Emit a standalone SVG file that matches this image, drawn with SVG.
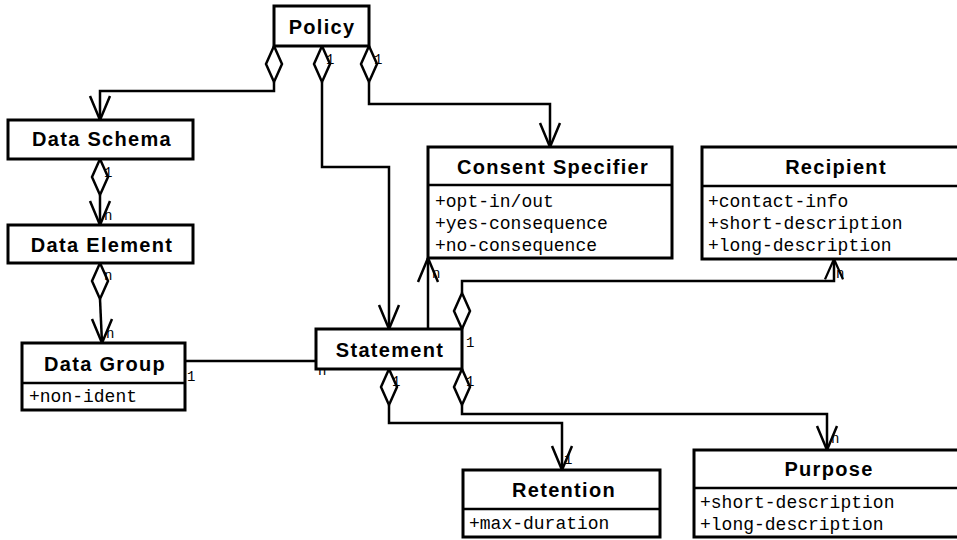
<svg xmlns="http://www.w3.org/2000/svg" width="957" height="540" viewBox="0 0 957 540">
<style>
.box{fill:#fff;stroke:#000;stroke-width:3}
.sep{stroke:#000;stroke-width:2.5}
.t{font-family:"Liberation Sans",Arial,sans-serif;font-weight:bold;font-size:20px;letter-spacing:1.3px;text-anchor:middle;fill:#000}
.a{font-family:"Liberation Mono","Courier New",monospace;font-size:18px;fill:#000}
.l{font-family:"Liberation Mono","Courier New",monospace;font-size:14px;fill:#000}
.c{fill:none;stroke:#000;stroke-width:2.5}
.d{fill:#fff;stroke:#000;stroke-width:2.5}
</style>
<defs>
<path id="dia" d="M0,0 L8,18 L0,36 L-8,18 Z"/>
<path id="arr" d="M-10,-24 L0,0 L10,-24"/>
</defs>
<rect width="957" height="540" fill="#fff"/>
<g id="connectors">
<path class="c" d="M274,82 V91 H100 V120"/>
<use href="#arr" class="c" transform="translate(100,120)"/>
<path class="c" d="M322,82 V167 H389 V329"/>
<use href="#arr" class="c" transform="translate(389,329)"/>
<path class="c" d="M369,82 V104 H550 V147"/>
<use href="#arr" class="c" transform="translate(550,147)"/>
<path class="c" d="M100,195 V225"/>
<use href="#arr" class="c" transform="translate(100,225)"/>
<path class="c" d="M100,299 L102,343"/>
<use href="#arr" class="c" transform="translate(102,343)"/>
<path class="c" d="M185,361 H316"/>
<path class="c" d="M428,329 V258"/>
<use href="#arr" class="c" transform="translate(428,258) rotate(180)"/>
<path class="c" d="M462,293 V281 H834 V259"/>
<use href="#arr" class="c" transform="translate(834,259) rotate(180) scale(0.9,0.85)"/>
<path class="c" d="M389,405 V423 H562 V470"/>
<use href="#arr" class="c" transform="translate(562,470)"/>
<path class="c" d="M462,405 V414 H827 V450"/>
<use href="#arr" class="c" transform="translate(827,450)"/>
<use href="#dia" class="d" transform="translate(274,46)"/>
<use href="#dia" class="d" transform="translate(322,46)"/>
<use href="#dia" class="d" transform="translate(369,46)"/>
<use href="#dia" class="d" transform="translate(100,159)"/>
<use href="#dia" class="d" transform="translate(100,263)"/>
<use href="#dia" class="d" transform="translate(462,293)"/>
<use href="#dia" class="d" transform="translate(389,369)"/>
<use href="#dia" class="d" transform="translate(462,369)"/>
<text class="l" x="326" y="64">1</text>
<text class="l" x="374" y="64">1</text>
<text class="l" x="552" y="162">n</text>
<text class="l" x="104" y="177">1</text>
<text class="l" x="104" y="220">n</text>
<text class="l" x="104" y="280">n</text>
<text class="l" x="106" y="338">n</text>
<text class="l" x="187" y="381">1</text>
<text class="l" x="318" y="375">n</text>
<text class="l" x="393" y="344">1</text>
<text class="l" x="432" y="345">n</text>
<text class="l" x="466" y="347">1</text>
<text class="l" x="392" y="386">1</text>
<text class="l" x="466" y="386">1</text>
<text class="l" x="432" y="278">n</text>
<text class="l" x="836" y="278">n</text>
<text class="l" x="564" y="464">1</text>
<text class="l" x="831" y="443">n</text>
</g>
<g id="policy">
<rect class="box" x="274" y="6" width="95" height="40"/>
<text class="t" x="322" y="34">Policy</text>
</g>
<g id="data-schema">
<rect class="box" x="8" y="120" width="185" height="39"/>
<text class="t" x="102" y="146">Data Schema</text>
</g>
<g id="data-element">
<rect class="box" x="8" y="225" width="185" height="38"/>
<text class="t" x="102" y="252">Data Element</text>
</g>
<g id="data-group">
<rect class="box" x="22" y="343" width="163" height="67"/>
<line class="sep" x1="22" y1="383" x2="185" y2="383"/>
<text class="t" x="105" y="371">Data Group</text>
<text class="a" x="29" y="402">+non-ident</text>
</g>
<g id="consent-specifier">
<rect class="box" x="428" y="147" width="244" height="111"/>
<line class="sep" x1="428" y1="185" x2="672" y2="185"/>
<text class="t" x="553" y="174">Consent Specifier</text>
<text class="a" x="435" y="207">+opt-in/out</text>
<text class="a" x="435" y="229">+yes-consequence</text>
<text class="a" x="435" y="251">+no-consequence</text>
</g>
<g id="recipient">
<rect class="box" x="702" y="147" width="266" height="112"/>
<line class="sep" x1="702" y1="186" x2="968" y2="186"/>
<text class="t" x="836" y="174">Recipient</text>
<text class="a" x="708" y="207">+contact-info</text>
<text class="a" x="708" y="229">+short-description</text>
<text class="a" x="708" y="251">+long-description</text>
</g>
<g id="statement">
<rect class="box" x="316" y="329" width="146" height="40"/>
<text class="t" x="390" y="357">Statement</text>
</g>
<g id="retention">
<rect class="box" x="463" y="470" width="197" height="67"/>
<line class="sep" x1="463" y1="509" x2="660" y2="509"/>
<text class="t" x="564" y="497">Retention</text>
<text class="a" x="469" y="529">+max-duration</text>
</g>
<g id="purpose">
<rect class="box" x="694" y="450" width="268" height="87"/>
<line class="sep" x1="694" y1="488" x2="962" y2="488"/>
<text class="t" x="829" y="476">Purpose</text>
<text class="a" x="700" y="508">+short-description</text>
<text class="a" x="700" y="530">+long-description</text>
</g>
</svg>
